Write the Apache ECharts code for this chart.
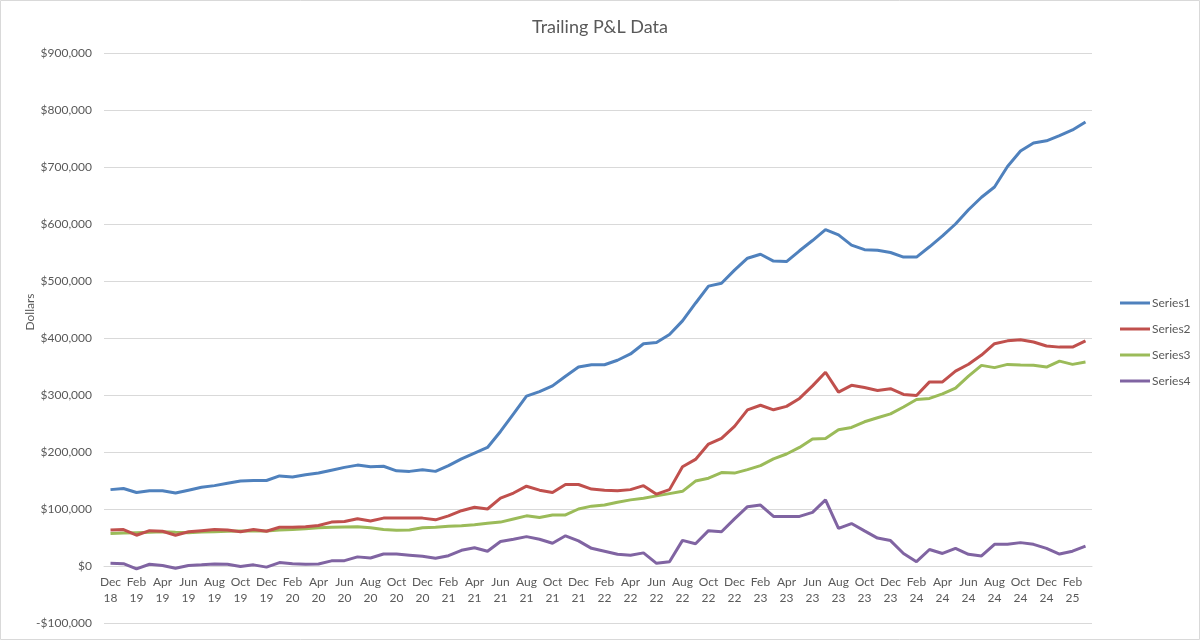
<!DOCTYPE html>
<html>
<head>
<meta charset="utf-8">
<title>Trailing P&amp;L Data</title>
<script src="https://cdn.jsdelivr.net/npm/echarts@6/dist/echarts.min.js"></script>
<style>
  html, body { margin: 0; padding: 0; background: #fff; }
  #chart { width: 1200px; height: 640px; }
</style>
</head>
<body>
<div id="chart"></div>
<script>
// months Dec 18 .. Mar 25
const months = [
  'Dec 18',
  'Jan 19', 'Feb 19', 'Mar 19', 'Apr 19', 'May 19', 'Jun 19', 'Jul 19', 'Aug 19', 'Sep 19', 'Oct 19', 'Nov 19', 'Dec 19',
  'Jan 20', 'Feb 20', 'Mar 20', 'Apr 20', 'May 20', 'Jun 20', 'Jul 20', 'Aug 20', 'Sep 20', 'Oct 20', 'Nov 20', 'Dec 20',
  'Jan 21', 'Feb 21', 'Mar 21', 'Apr 21', 'May 21', 'Jun 21', 'Jul 21', 'Aug 21', 'Sep 21', 'Oct 21', 'Nov 21', 'Dec 21',
  'Jan 22', 'Feb 22', 'Mar 22', 'Apr 22', 'May 22', 'Jun 22', 'Jul 22', 'Aug 22', 'Sep 22', 'Oct 22', 'Nov 22', 'Dec 22',
  'Jan 23', 'Feb 23', 'Mar 23', 'Apr 23', 'May 23', 'Jun 23', 'Jul 23', 'Aug 23', 'Sep 23', 'Oct 23', 'Nov 23', 'Dec 23',
  'Jan 24', 'Feb 24', 'Mar 24', 'Apr 24', 'May 24', 'Jun 24', 'Jul 24', 'Aug 24', 'Sep 24', 'Oct 24', 'Nov 24', 'Dec 24',
  'Jan 25', 'Feb 25', 'Mar 25'
];

const series1 = [
  134000,
  136000, 129000, 132000, 132000, 128000, 133000, 138000, 141000, 145000, 149000, 150000, 150000,
  158000, 156000, 160000, 163000, 168000, 173000, 177000, 174000, 175000, 167000, 166000, 169000,
  166000, 176000, 188000, 198000, 208000, 236000, 267000, 298000, 306000, 316000, 333000, 349000,
  353000, 353000, 361000, 372000, 390000, 392000, 406000, 430000, 461000, 491000, 496000, 519000,
  540000, 547000, 535000, 534000, 553000, 571000, 590000, 581000, 563000, 555000, 554000, 550000,
  542000, 542000, 560000, 579000, 600000, 625000, 647000, 665000, 701000, 728000, 742000, 746000,
  755000, 765000, 779000
];

const series2 = [
  63000,
  64000, 54000, 62000, 61000, 54000, 60000, 62000, 64000, 63000, 60000, 64000, 61000,
  68000, 68000, 69000, 71000, 77000, 78000, 83000, 79000, 84000, 84000, 84000, 84000,
  81000, 88000, 97000, 103000, 100000, 119000, 128000, 140000, 133000, 129000, 143000, 143000,
  135000, 133000, 132000, 134000, 141000, 126000, 134000, 174000, 187000, 214000, 224000, 245000,
  274000, 282000, 274000, 280000, 294000, 316000, 340000, 305000, 317000, 313000, 308000, 311000,
  301000, 299000, 323000, 323000, 342000, 354000, 370000, 390000, 395000, 397000, 393000, 386000,
  384000, 384000, 395000
];

const series3 = [
  57000,
  58000, 58500, 59000, 60000, 59000, 58500, 59500, 60000, 61000, 61500, 61500, 61500,
  63000, 64000, 65500, 67000, 68000, 68500, 69000, 67000, 64000, 62700, 63000, 67000,
  68000, 69600, 70800, 72500, 75000, 77000, 82500, 88000, 85000, 89500, 89500, 100000,
  105000, 107000, 112000, 116000, 119000, 123000, 127000, 131000, 149000, 154000, 164000, 163000,
  169000, 176000, 188000, 196500, 208000, 223000, 223500, 239000, 243000, 253000, 260000, 267000,
  279000, 292000, 294000, 302000, 312000, 333000, 352000, 348000, 353700, 352500, 352000, 349000,
  359500, 353700, 357800
];

const series4 = [
  4700,
  4000, -5000, 3000, 1000, -4000, 1000, 2000, 3500, 3000, -1000, 2000, -2000,
  6000, 4000, 3000, 3500, 9000, 9400, 16000, 14000, 21000, 21000, 19000, 17000,
  13500, 18000, 27500, 32000, 26000, 43000, 47000, 51500, 47000, 40000, 53000, 44000,
  31000, 26000, 20500, 19000, 23000, 4700, 7600, 45000, 39000, 62000, 60000, 82700,
  104000, 107000, 87000, 87000, 87000, 94000, 116000, 66000, 74500, 61600, 49000, 44600,
  22000, 7600, 29000, 22000, 31000, 20500, 17600, 38000, 38000, 41000, 38000, 31000,
  21000, 26000, 35000
];

const seriesNames = ['Series1', 'Series2', 'Series3', 'Series4'];
const seriesColors = ['#4F81BD', '#C0504D', '#9BBB59', '#8064A2'];
const seriesData = [series1, series2, series3, series4];

const textColor = '#595959';
const fontFamily = 'Lato, "Open Sans", sans-serif';

function dollars(v) {
  const s = '$' + Math.abs(v).toLocaleString('en-US');
  return v < 0 ? '-' + s : s;
}

const chart = echarts.init(document.getElementById('chart'));

chart.setOption({
  animation: false,
  textStyle: { fontFamily: fontFamily, color: textColor },
  title: {
    text: 'Trailing P&L Data',
    left: 'center',
    top: 13,
    textStyle: { fontFamily: fontFamily, fontSize: 18, fontWeight: 'normal', color: textColor }
  },
  legend: {
    orient: 'vertical',
    left: 1115,
    top: 292,
    icon: 'rect',
    itemWidth: 30,
    itemHeight: 3,
    itemGap: 14,
    textStyle: { fontFamily: fontFamily, fontSize: 12, color: textColor, padding: [0, 0, 0, -3] },
    data: seriesNames
  },
  grid: { left: 104, right: 108, top: 53, bottom: 17, outerBoundsMode: 'none' },
  xAxis: {
    type: 'category',
    data: months,
    boundaryGap: true,
    position: 'bottom',
    // Excel draws the category labels at the $0 line, one gridline above the bottom
    offset: -57,
    axisLine: { onZero: false, lineStyle: { color: '#d9d9d9', width: 1 } },
    axisTick: { show: false },
    axisLabel: {
      interval: 1,
      margin: 8,
      fontSize: 12,
      lineHeight: 16,
      color: textColor,
      formatter: (v) => v.replace(' ', '\n')
    },
    splitLine: { show: false }
  },
  yAxis: {
    type: 'value',
    min: -100000,
    max: 900000,
    interval: 100000,
    axisLine: { show: false },
    axisTick: { show: false },
    axisLabel: { fontSize: 12, color: textColor, margin: 12, formatter: dollars },
    splitLine: { lineStyle: { color: '#d9d9d9', width: 1 } }
  },
  graphic: [
    {
      type: 'rect',
      shape: { x: 0.5, y: 0.5, width: 1199, height: 639 },
      style: { fill: 'none', stroke: '#d9d9d9', lineWidth: 1 },
      silent: true
    },
    {
      type: 'text',
      x: 30,
      y: 312,
      rotation: Math.PI / 2,
      style: {
        text: 'Dollars',
        fill: textColor,
        font: '12px ' + fontFamily,
        align: 'center',
        verticalAlign: 'middle'
      },
      silent: true
    }
  ],
  series: seriesNames.map((name, i) => ({
    name: name,
    type: 'line',
    data: seriesData[i],
    symbol: 'none',
    color: seriesColors[i],
    lineStyle: { width: 3, color: seriesColors[i] },
    z: 10 - i
  }))
});
</script>
</body>
</html>
